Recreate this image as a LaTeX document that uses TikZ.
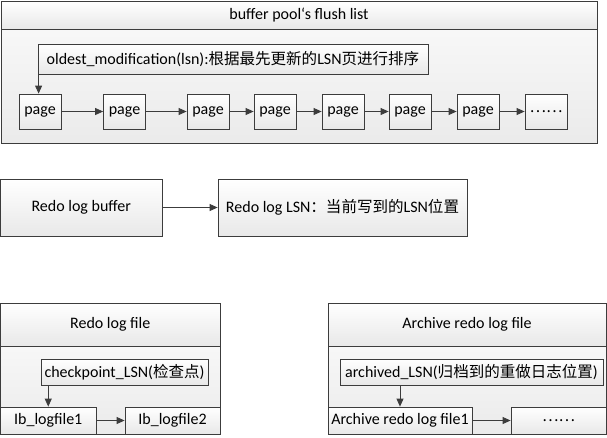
\documentclass[tikz,border=0pt]{standalone}
\usepackage{fontspec}
\setmainfont{Carlito}
\newfontfamily\cjkfont[Scale=0.97]{Noto Sans CJK SC}
\usetikzlibrary{arrows.meta}
\newcommand{\zh}[1]{{\cjkfont #1}}
\definecolor{ln}{HTML}{3C3C3C}
\tikzset{
 box/.style={draw=ln, line width=0.8pt, top color=white, bottom color=black!9, inner sep=0pt, text=black, font=\fontsize{16}{19}\selectfont},
 arr/.style={draw=ln, line width=0.8pt, -{Triangle[length=8pt,width=7pt]}},
}
\begin{document}
\begin{tikzpicture}[x=1pt,y=-1pt]
\useasboundingbox[fill=white] (0,0) rectangle (607,437);

% ---- buffer pool flush list ----
\node[box, minimum width=596, minimum height=28] (fh) at (299,15) {buffer pool`s flush list};
\node[box, minimum width=596, minimum height=114, top color=black!3, bottom color=black!8] (fb) at (299,86) {};
\node[box, minimum width=390, minimum height=30] (old) at (233,59) {oldest\_modification(lsn):\zh{根据最先更新的}LSN\zh{页进行排序}};
\foreach \i/\x in {1/40,2/124.5,3/208,4/275,5/343,6/410,7/478}{
  \node[box, minimum width=42, minimum height=35] (p\i) at (\x,111.5) {page};
}
\node[box, minimum width=42, minimum height=35] (p8) at (546,111.5) {\zh{……}};
\foreach \a/\b in {1/2,2/3,3/4,4/5,5/6,6/7,7/8}{
  \draw[arr] (p\a.east) -- (p\b.west);
}
\draw[arr] ([xshift=1pt]old.south west) -- ([xshift=1pt]old.south west |- p1.north);

% ---- redo log buffer ----
\node[box, minimum width=161.5, minimum height=57] (rb) at (81.25,207.5) {Redo log buffer};
\node[box, minimum width=249, minimum height=57] (lsn) at (342.5,207.5) {Redo log LSN\zh{：当前写到的}LSN\zh{位置}};
\draw[arr] (rb.east) -- (lsn.west);

% ---- redo log file ----
\node[box, minimum width=219.5, minimum height=43] (rh) at (110.25,324.5) {Redo log file};
\node[box, minimum width=219.5, minimum height=88, top color=black!3, bottom color=black!8] (rfb) at (110.25,390) {};
\node[box, minimum width=167, minimum height=26] (cp) at (124.5,372) {checkpoint\_LSN(\zh{检查点})};
\node[box, minimum width=95.5, minimum height=27] (ib1) at (48.25,420.5) {Ib\_logfile1};
\node[box, minimum width=95, minimum height=27] (ib2) at (172.5,420.5) {Ib\_logfile2};
\draw[arr] (cp.south -| ib1.north) -- (ib1.north);
\draw[arr] (ib1.east) -- (ib2.west);

% ---- archive redo log file ----
\node[box, minimum width=278, minimum height=43] (ah) at (467,324.5) {Archive redo log file};
\node[box, minimum width=278, minimum height=88, top color=black!3, bottom color=black!8] (afb) at (467,390) {};
\node[box, minimum width=263, minimum height=26] (ar) at (471.5,372) {archived\_LSN(\zh{归档到的重做日志位置})};
\node[box, minimum width=144, minimum height=27] (af1) at (400,420.5) {Archive redo log file1};
\node[box, minimum width=95, minimum height=27] (ad) at (558.5,420.5) {\zh{……}};
\draw[arr] (ar.south -| af1.north) -- (af1.north);
\draw[arr] (af1.east) -- (ad.west);
\end{tikzpicture}
\end{document}
